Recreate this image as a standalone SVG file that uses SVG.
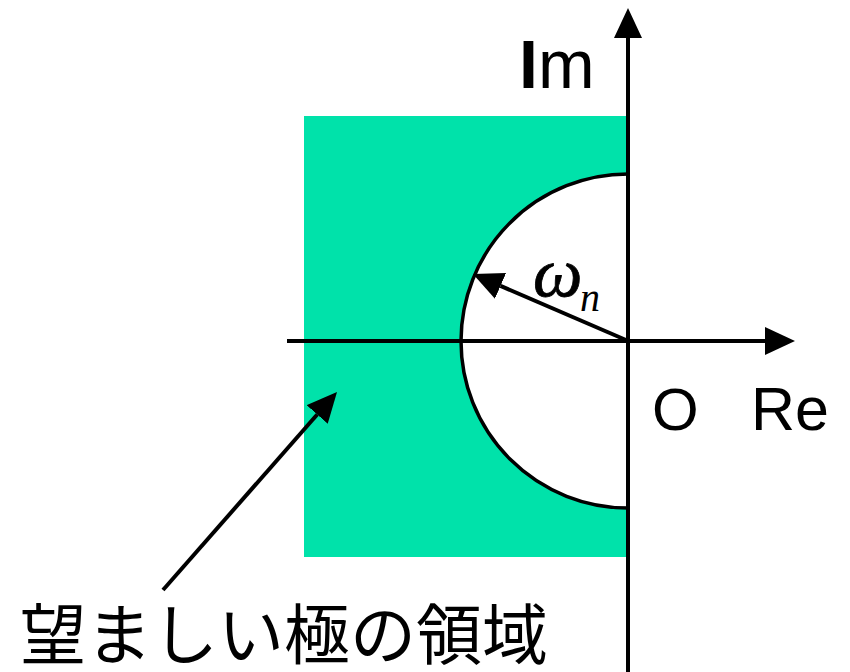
<svg xmlns="http://www.w3.org/2000/svg" width="850" height="672" viewBox="0 0 850 672">
<style>
.ax{stroke:#000;stroke-width:4;fill:none}
.lbl{font-family:"Liberation Sans",Arial,sans-serif;fill:#000}
.jp{font-family:"Liberation Sans","Noto Sans CJK JP",sans-serif;fill:#000}
.math{font-family:"Liberation Serif","Times New Roman",serif;font-style:italic;fill:#000}
</style>
<defs>
<marker id="ah" viewBox="0 0 30 28" refX="0" refY="14" markerWidth="30" markerHeight="28" markerUnits="userSpaceOnUse" orient="auto">
<path d="M0,0 L30,14 L0,28 z" fill="#000"/>
</marker>
</defs>
<rect width="850" height="672" fill="#fff"/>
<g id="region">
<rect x="304" y="116" width="324" height="441" fill="#00e2aa"/>
<path d="M628,174 A167,167 0 0 0 628,508 Z" fill="#fff" stroke="none"/>
<path d="M628,174 A167,167 0 0 0 628,508" fill="none" stroke="#000" stroke-width="3.5"/>
</g>
<g id="connectors">
<line class="ax" x1="628" y1="672" x2="628" y2="38" marker-end="url(#ah)"/>
<line class="ax" x1="287" y1="341" x2="765" y2="341" marker-end="url(#ah)"/>
<line class="ax" x1="626" y1="340" x2="500.5" y2="285.9" marker-end="url(#ah)"/>
<line class="ax" x1="163" y1="590" x2="317.2" y2="414.5" marker-end="url(#ah)"/>
</g>
<g id="labels">
<text class="lbl" x="519" y="88" font-size="68"><tspan font-weight="bold">I</tspan>m</text>
<text class="lbl" x="652" y="430" font-size="60">O</text>
<text class="lbl" x="751" y="430" font-size="61">Re</text>
<text class="math" x="533" y="296" font-size="70" stroke="#000" stroke-width="0.8">ω</text>
<text class="math" x="580" y="311" font-size="40">n</text>
<text class="jp" x="20" y="659" font-size="66">望ましい極の領域</text>
</g>
</svg>
